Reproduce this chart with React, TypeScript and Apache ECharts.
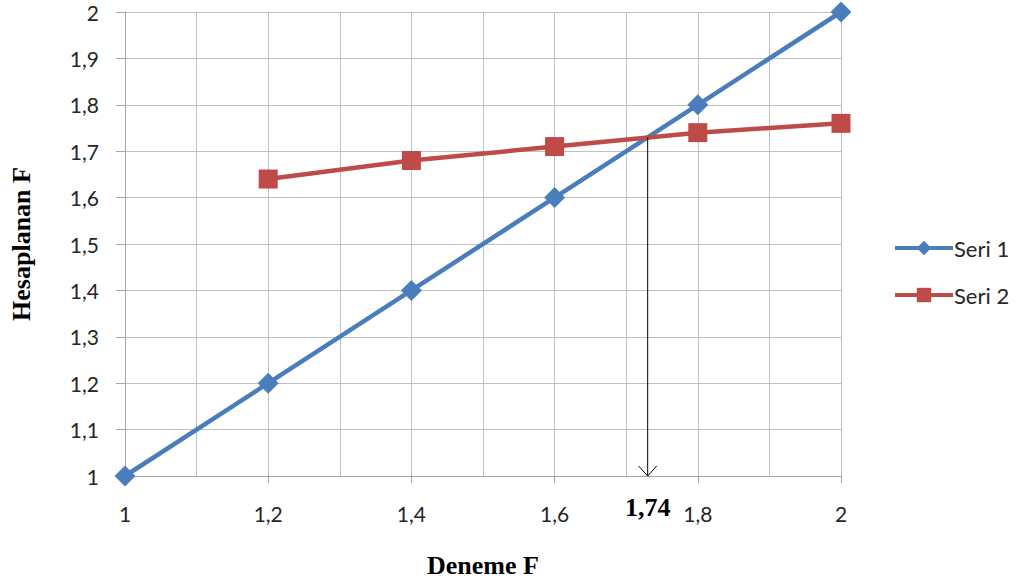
import React, { useEffect, useRef } from "react";
import * as echarts from "echarts";

const seri1X = [1, 1.2, 1.4, 1.6, 1.8, 2];
const seri1Y = [1, 1.2, 1.4, 1.6, 1.8, 2];
const seri2X = [1.2, 1.4, 1.6, 1.8, 2];
const seri2Y = [1.64, 1.68, 1.71, 1.74, 1.76];
const arrowX = 1.73;
const arrowTop = 1.73;
const arrowBottom = 1;
const arrowLabel = "1,74";
const xTitle = "Deneme F";
const yTitle = "Hesaplanan F";

const fmt = (v: number) => String(Math.round(v * 10) / 10).replace(".", ",");

export default function App() {
  const ref = useRef<HTMLDivElement>(null);
  useEffect(() => {
    const chart = echarts.init(ref.current!, null, { renderer: "svg" });
    const grey = "#A6A6A6";
    const labelFont = { fontFamily: "Lato", fontSize: 21, color: "#262626" };
    chart.setOption({
      animation: false,
      backgroundColor: "#fff",
      grid: { left: 123, right: 180, top: 12, bottom: 110 },
      legend: {
        data: ["Seri 1", "Seri 2"],
        orient: "vertical",
        left: 888,
        top: 232,
        itemWidth: 58,
        itemHeight: 18,
        itemGap: 25,
        lineStyle: { width: 4 },
        textStyle: { fontFamily: "Lato", fontSize: 22, color: "#262626", padding: [0, 0, 0, -4] },
      },
      xAxis: {
        type: "value",
        min: 1,
        max: 2,
        interval: 0.2,
        name: xTitle,
        nameLocation: "middle",
        nameGap: 76,
        nameTextStyle: { fontFamily: "Liberation Serif", fontWeight: "bold", fontSize: 26, color: "#000" },
        axisLine: { show: true, lineStyle: { color: grey } },
        axisTick: { show: true, length: 7, lineStyle: { color: grey } },
        axisLabel: { ...labelFont, margin: 27, formatter: fmt },
        splitLine: { show: true, lineStyle: { color: "#C0C0C0" } },
        minorTick: { show: false, splitNumber: 2 },
        minorSplitLine: { show: true, lineStyle: { color: "#C0C0C0" } },
      },
      yAxis: {
        type: "value",
        min: 1,
        max: 2,
        interval: 0.1,
        name: yTitle,
        nameLocation: "middle",
        nameGap: 91,
        nameRotate: 90,
        nameTextStyle: { fontFamily: "Liberation Serif", fontWeight: "bold", fontSize: 26, color: "#000" },
        axisLine: { show: true, lineStyle: { color: grey } },
        axisTick: { show: true, length: 9, lineStyle: { color: grey } },
        axisLabel: { ...labelFont, margin: 26, formatter: fmt },
        splitLine: { show: true, lineStyle: { color: "#C0C0C0" } },
      },
      series: [
        {
          name: "Seri 1",
          type: "line",
          data: seri1X.map((x, i) => [x, seri1Y[i]]),
          symbol: "diamond",
          symbolSize: 21,
          lineStyle: { width: 4.5, color: "#4A7EBB" },
          itemStyle: { color: "#4A7EBB" },
        },
        {
          name: "Seri 2",
          type: "line",
          data: seri2X.map((x, i) => [x, seri2Y[i]]),
          symbol: "rect",
          symbolSize: 19,
          lineStyle: { width: 4.5, color: "#BE4B48" },
          itemStyle: { color: "#BE4B48" },
        },
        {
          name: "arrow",
          type: "custom",
          clip: false,
          z: 5,
          data: [[arrowX, arrowTop, arrowBottom]],
          encode: { x: 0, y: 1 },
          renderItem: (params: any, api: any) => {
            const top = api.coord([api.value(0), api.value(1)]);
            const bot = api.coord([api.value(0), api.value(2)]);
            return {
              type: "group",
              children: [
                {
                  type: "line",
                  shape: { x1: top[0], y1: top[1], x2: bot[0], y2: bot[1] },
                  style: { stroke: "#000", lineWidth: 1 },
                },
                {
                  type: "polyline",
                  shape: { points: [[bot[0] - 9, bot[1] - 10], [bot[0], bot[1]], [bot[0] + 9, bot[1] - 10]] },
                  style: { stroke: "#000", fill: null, lineWidth: 1 },
                },
                {
                  type: "text",
                  x: bot[0],
                  y: bot[1] + 31,
                  style: {
                    text: arrowLabel,
                    fontFamily: "Liberation Serif",
                    fontWeight: "bold",
                    fontSize: 26,
                    fill: "#000",
                    align: "center",
                    verticalAlign: "middle",
                  },
                },
              ],
            };
          },
        },
      ],
    });
    return () => chart.dispose();
  }, []);
  return <div ref={ref} style={{ position: "absolute", left: 0, top: 0, width: 1021, height: 586 }} />;
}
